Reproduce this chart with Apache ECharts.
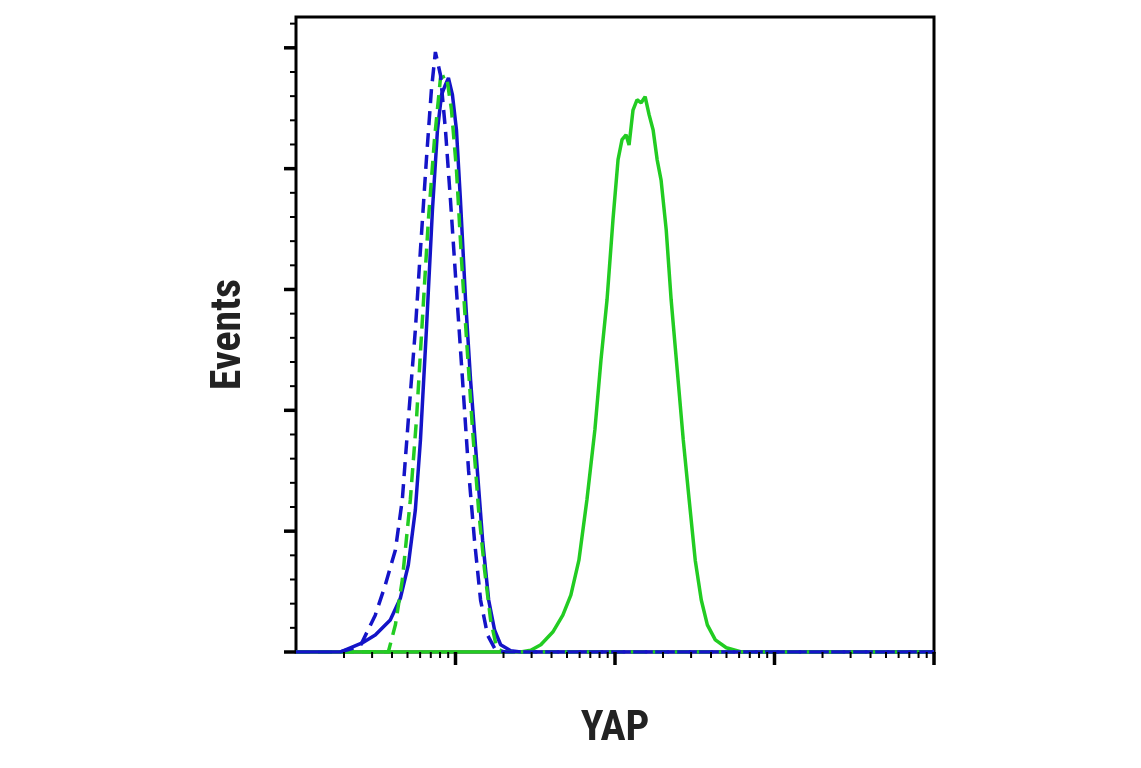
<!DOCTYPE html>
<html><head><meta charset="utf-8">
<script src="https://cdn.jsdelivr.net/npm/echarts@6/dist/echarts.min.js"></script>
<style>html,body{margin:0;padding:0;background:#fff}#c{width:1141px;height:768px}</style>
</head><body><div id="c"></div>
<script>
const blueDashedX=[10,18.9,25.3,31.4,36.3,42.0,46.4,50.6,56.0,60.3,65.7,70.6,74.8,80.5,86.5,93.0,101.4,110.7,120.7,131.5,143.6,158.9,178.5,206.2,100000];
const blueDashedY=[0,0,1,6.1,11.1,16.9,25.2,38.4,53.3,66.6,81.5,93,99.3,95.5,86.4,74.8,59.9,45,30.1,18.5,8.6,2.8,0.3,0,0];
const blueSolidX=[10,18.9,21.9,26.0,31.4,39.0,45.1,50.6,56.0,60.3,65.7,71.7,77.1,81.7,86.5,90.3,95.7,101.4,107.4,115.6,124.3,135.5,147.9,161.4,175.9,191.9,221.8,256.4,100000];
const blueSolidY=[0,0,0.7,1.5,2.8,5.3,8.9,14.4,23.5,35.1,53.3,73.2,86.4,92.2,93.9,95,92.2,86.4,74.8,58.3,45,31.8,18.5,8.6,3.6,1.2,0.2,0,0];
const greenDashedX=[10,37.9,42.0,46.4,52.1,56.9,62.0,67.6,73.8,80.5,87.8,94.4,101.4,109.1,117.3,127.9,139.6,152.1,166.0,181.1,197.6,100000];
const greenDashedY=[0,0,4.5,11.9,25.2,38.4,55,71.5,84.8,95,95.4,89.7,79.8,64.9,51.7,36.8,23.5,13.6,5.3,0.7,0,0];
const greenSolidX=[10,256.4,296.5,342.6,407.4,471,528.6,594,666.8,748.2,816.6,891.3,970.8,1045,1107,1173,1225,1297,1374,1459,1545,1637,1734,1837,1945,2094,2249,2455,2679,2917,3184,3475,3793,4256,4989,6194,100000];
const greenSolidY=[0,0,0.3,1.2,3.3,6.1,9.4,15.2,25.2,36.8,48.3,58.3,71.5,81.5,84.8,85.6,83.9,89.7,91.4,90.9,91.9,88.9,86.4,81.5,78.1,69.9,58.3,46.7,35.1,25.2,15.2,8.6,4.5,2,0.7,0,0];
const xMinorTicks=[20,30,40,50,60,70,80,90,200,300,400,500,600,700,800,900,2000,3000,4000,5000,6000,7000,8000,9000,20000,30000,40000,50000,60000,70000,80000,90000];
const yMajor=[0,20,40,60,80,100];
const yMinor=[4,8,12,16,24,28,32,36,44,48,52,56,64,68,72,76,84,88,92,96,104];
const xMajor=[100,1000,10000,100000];

const BLUE='#1414c8', GREEN='#22cc22';
const zip=(a,b)=>a.map((v,i)=>[v,b[i]]);
function line(name,x,y,color,dash,z){return {name,type:'line',data:zip(x,y),showSymbol:false,symbol:'none',z,
  lineStyle:{color,width:3.5,type:dash?[14,8]:'solid'}};}
const tickSeries={type:'custom',z:10,silent:true,clip:false,
  data:[...xMinorTicks.map(v=>[v,0,0,6]),...xMajor.map(v=>[v,0,0,13]),
        ...yMinor.map(v=>[10,v,1,6]),...yMajor.map(v=>[10,v,1,12])],
  renderItem(params,api){
    const p=api.coord([api.value(0),api.value(1)]);const L=api.value(3);
    const sh=api.value(2)===0?{x1:p[0],y1:p[1],x2:p[0],y2:p[1]+L}:{x1:p[0],y1:p[1],x2:p[0]-L,y2:p[1]};
    return {type:'line',shape:sh,style:{stroke:'#000',lineWidth:api.value(3)>8?3.5:2}};
  }};
const font='"Liberation Sans Narrow","Roboto Condensed","Liberation Sans",Arial,sans-serif';
const chart=echarts.init(document.getElementById('c'));
chart.setOption({
  animation:false,
  grid:{left:296,right:207,top:17,bottom:116,show:true,borderColor:'#000',borderWidth:3,backgroundColor:'transparent'},
  xAxis:{type:'log',min:10,max:100000,logBase:10,axisLine:{show:false},axisTick:{show:false},axisLabel:{show:false},splitLine:{show:false},
    name:'YAP',nameLocation:'middle',nameGap:56,nameTextStyle:{fontFamily:font,fontWeight:'bold',fontSize:42,color:'#222'}},
  yAxis:{type:'value',min:0,max:105.1,axisLine:{show:false},axisTick:{show:false},axisLabel:{show:false},splitLine:{show:false},
    name:'Events',nameLocation:'middle',nameGap:46,nameTextStyle:{fontFamily:font,fontWeight:'bold',fontSize:42,color:'#222'}},
  series:[
    line('green',greenSolidX,greenSolidY,GREEN,false,2),
    line('blue',blueSolidX,blueSolidY,BLUE,false,3),
    line('greenDashed',greenDashedX,greenDashedY,GREEN,true,4),
    line('blueDashed',blueDashedX,blueDashedY,BLUE,true,5),
    tickSeries
  ]
});
</script></body></html>
